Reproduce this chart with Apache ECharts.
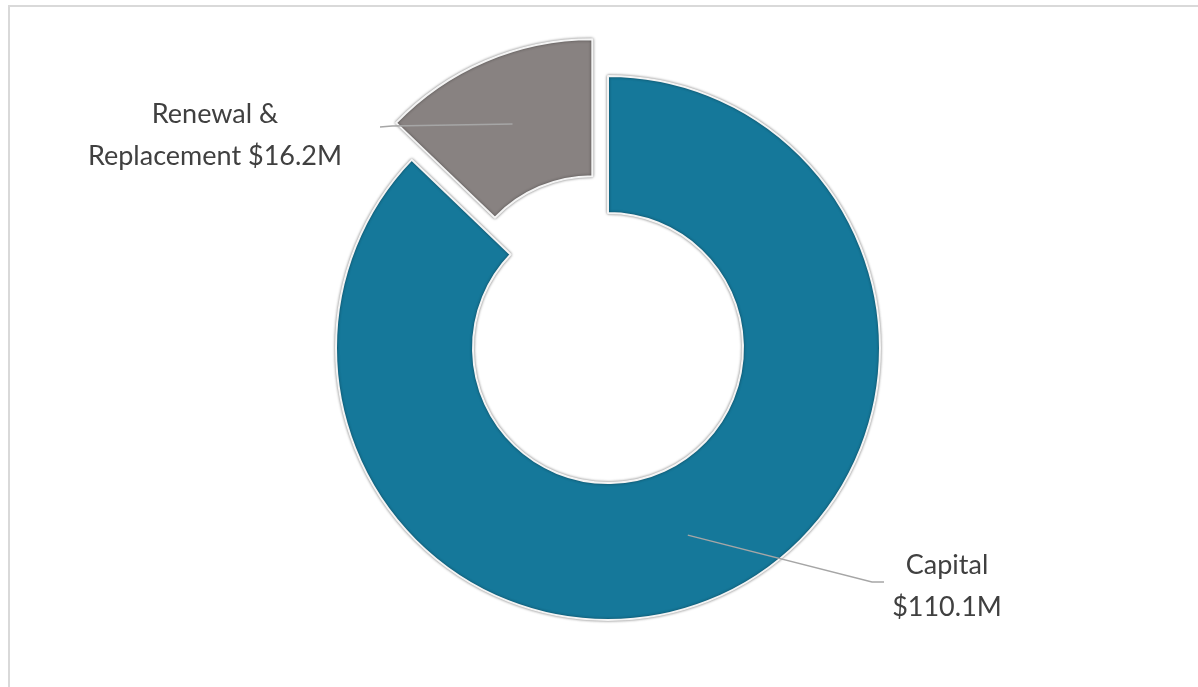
<!DOCTYPE html>
<html>
<head>
<meta charset="utf-8">
<script src="https://cdn.jsdelivr.net/npm/echarts@6/dist/echarts.min.js"></script>
<style>
  html, body { margin: 0; padding: 0; background: #ffffff; }
  #chart { width: 1198px; height: 687px; }
</style>
</head>
<body>
<div id="chart"></div>
<script>
// Spending by category, $ millions
const categories = ['Capital', 'Renewal & Replacement'];
const amounts = [110.1, 16.2];
const labelLines = [
  ['Capital', '$110.1M'],
  ['Renewal &', 'Replacement $16.2M']
];
const explodeBy = [0, 40];            // px each slice is pulled out from the centre
const sliceColors = ['#15789A', '#888281'];

// Donut geometry
const CX = 608, CY = 348, R_IN = 135, R_OUT = 272;

const total = amounts.reduce((a, b) => a + b, 0);
// mid-angle of each slice, degrees clockwise from 12 o'clock
const midAngles = [];
let acc = 0;
amounts.forEach(v => {
  const span = v / total * 360;
  midAngles.push(acc + span / 2);
  acc += span;
});

// centre of each slice once it is pulled out along its mid-angle
const sliceCenters = midAngles.map((deg, i) => {
  const a = deg * Math.PI / 180;
  return [CX + Math.sin(a) * explodeBy[i], CY - Math.cos(a) * explodeBy[i]];
});

// Where each label block is centred and where its leader line ends
const labelAnchors = [
  { x: 947, y: 586, lineEnd: [[872, 582], [884, 582]] },
  { x: 215, y: 135, lineEnd: [[392, 126], [380, 127]] }
];

const chart = echarts.init(document.getElementById('chart'), null, { renderer: 'canvas' });

const clear = { color: 'rgba(0,0,0,0)', borderWidth: 0, shadowBlur: 0 };

// One pie per slice so that each slice can carry its own offset;
// the other slice stays in the data (transparent) to keep the angles.
const sliceSeries = amounts.map((_, s) => ({
  type: 'pie',
  z: 2,
  center: sliceCenters[s],
  radius: [R_IN, R_OUT],
  startAngle: 90,
  clockwise: true,
  silent: true,
  label: { show: false },
  labelLine: { show: false },
  data: amounts.map((v, i) => ({
    name: categories[i],
    value: v,
    itemStyle: i === s ? {
      color: sliceColors[i],
      borderColor: '#f4f4f4',
      borderWidth: 2,
      shadowBlur: 3,
      shadowColor: 'rgba(0,0,0,0.45)'
    } : clear
  }))
}));

// Transparent pie on top that carries the labels and leader lines,
// so the leader lines are drawn over the slices.
const labelSeries = {
  type: 'pie',
  z: 5,
  center: [CX, CY],
  radius: [R_IN, R_OUT],
  startAngle: 90,
  clockwise: true,
  silent: true,
  avoidLabelOverlap: false,
  itemStyle: clear,
  data: amounts.map((v, i) => ({ name: categories[i], value: v })),
  label: {
    show: true,
    position: 'outside',
    formatter: (p) => labelLines[p.dataIndex].join('\n'),
    fontFamily: 'Lato',
    fontSize: 27,
    lineHeight: 42,
    color: '#404040',
    align: 'center'
  },
  labelLine: {
    show: true,
    lineStyle: { color: '#a6a6a6', width: 1.3 }
  },
  labelLayout: (params) => {
    const i = params.dataIndex;
    const a = midAngles[i] * Math.PI / 180;
    const r = (R_IN + R_OUT) / 2;
    const c = sliceCenters[i];
    const start = [c[0] + Math.sin(a) * r, c[1] - Math.cos(a) * r];
    const anchor = labelAnchors[i];
    return {
      x: anchor.x,
      y: anchor.y,
      align: 'center',
      verticalAlign: 'middle',
      labelLinePoints: [start, anchor.lineEnd[0], anchor.lineEnd[1]]
    };
  }
};

chart.setOption({
  animation: false,
  backgroundColor: '#ffffff',
  graphic: [{
    type: 'rect',
    shape: { x: 9, y: 6, width: 1400, height: 900 },
    style: { fill: 'none', stroke: '#d9d9d9', lineWidth: 2 },
    silent: true,
    z: -10
  }],
  series: sliceSeries.concat([labelSeries])
});
</script>
</body>
</html>
